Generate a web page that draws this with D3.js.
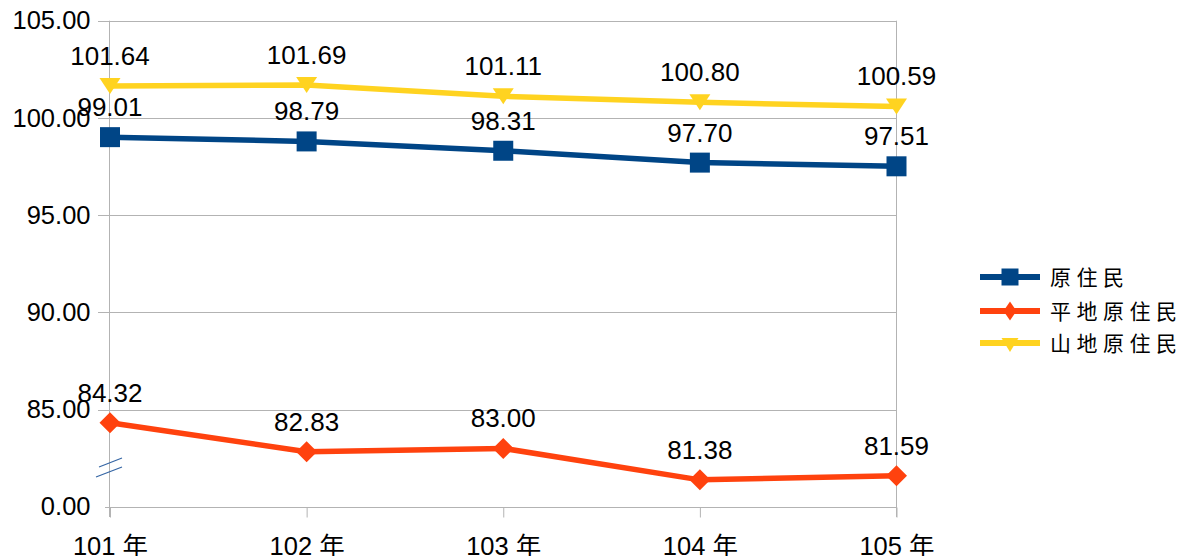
<!DOCTYPE html>
<html><head><meta charset="utf-8">
<script src="https://cdn.jsdelivr.net/npm/d3@7"></script>
<style>
body{margin:0;background:#fff;}
svg{display:block;}
</style></head>
<body>
<svg id="chart" width="1187" height="556"></svg>
<script>
const categories = ["101 年","102 年","103 年","104 年","105 年"];
const seriesNames = ["原住民","平地原住民","山地原住民"];
const seriesAll = [99.01, 98.79, 98.31, 97.70, 97.51];
const seriesPlain = [84.32, 82.83, 83.00, 81.38, 81.59];
const seriesMountain = [101.64, 101.69, 101.11, 100.80, 100.59];
const yTickValues = [80, 85, 90, 95, 100, 105];
const yTickLabels = ["0.00", "85.00", "90.00", "95.00", "100.00", "105.00"];
const colors = ["#004586", "#ff420e", "#ffd320"];
const symbols = ["square", "diamond", "triDown"];

(function () {
const svg = d3.select("#chart");
const pLeft = 109.5, pRight = 896.5, pTop = 20.7, pBottom = 506.7;
const x = d3.scalePoint().domain(categories).range([pLeft + 0.5, pRight]).padding(0);
const y = d3.scaleLinear().domain([80, 105]).range([pBottom, pTop]);
const font = "'Liberation Sans', Arial, 'Noto Sans CJK TC', sans-serif";

// gridlines
const g = svg.append("g");
g.selectAll("line.grid").data(yTickValues).join("line")
  .attr("x1", (d, i) => i === 0 ? 105 : 98).attr("x2", pRight)
  .attr("y1", d => Math.round(y(d)) + 0.5).attr("y2", d => Math.round(y(d)) + 0.5)
  .attr("stroke", "#b3b3b3").attr("stroke-width", 1);
// vertical axis line and right border
[pLeft, pRight].forEach(xx => {
  g.append("line").attr("x1", xx).attr("x2", xx).attr("y1", pTop).attr("y2", 517)
    .attr("stroke", "#b3b3b3").attr("stroke-width", 1);
});
// x ticks
const xAxis = d3.axisBottom(x).tickSize(10).tickPadding(18);
const xg = svg.append("g").attr("transform", `translate(0,${Math.round(pBottom)+0.5})`).call(xAxis);
xg.select(".domain").remove();
xg.selectAll(".tick line").attr("stroke", "#b3b3b3");
xg.selectAll(".tick text").attr("font-family", font).attr("font-size", 25.5).attr("fill", "#000")
  .attr("dy", "0.71em").attr("y", 29);

// y axis labels
const yAxis = d3.axisLeft(y).tickValues(yTickValues).tickSize(0).tickPadding(19)
  .tickFormat((d, i) => yTickLabels[i]);
const yg = svg.append("g").attr("transform", `translate(${pLeft},0)`).call(yAxis);
yg.select(".domain").remove();
yg.selectAll(".tick text").attr("font-family", font).attr("font-size", 25.5).attr("fill", "#000");

// axis break mark
const brk = svg.append("g").attr("stroke", "#3465a4").attr("stroke-width", 1.2);
brk.append("line").attr("x1", 96).attr("y1", 477).attr("x2", 122).attr("y2", 467);
brk.append("line").attr("x1", 99).attr("y1", 467).attr("x2", 122).attr("y2", 458);

function markerPath(sym, w, h) {
  const a = w / 2, b = h / 2;
  if (sym === "square") return `M${-a},${-b}H${a}V${b}H${-a}Z`;
  if (sym === "diamond") return `M0,${-b}L${a},0L0,${b}L${-a},0Z`;
  return `M${-a},${-b}L${a},${-b}L0,${b}Z`;
}

const allSeries = [seriesAll, seriesPlain, seriesMountain];
const mSize = [[20, 20], [21, 21], [21, 16]];
const legSize = [[17, 17], [13, 19], [17, 14]];
const line = d3.line().x((d, i) => x(categories[i])).y(d => y(d));

allSeries.forEach((vals, si) => {
  const sg = svg.append("g");
  sg.append("path").datum(vals).attr("d", line).attr("fill", "none")
    .attr("stroke", colors[si]).attr("stroke-width", 5.5).attr("stroke-linejoin", "round");
  sg.selectAll("path.m").data(vals).join("path").attr("class", "m")
    .attr("transform", (d, i) => `translate(${x(categories[i])},${y(d)})`)
    .attr("d", markerPath(symbols[si], mSize[si][0], mSize[si][1]))
    .attr("fill", colors[si]);
});
// data labels
allSeries.forEach((vals, si) => {
  svg.append("g").selectAll("text").data(vals).join("text")
    .attr("x", (d, i) => x(categories[i]))
    .attr("y", d => y(d) - 21)
    .attr("text-anchor", "middle")
    .attr("font-family", font).attr("font-size", 26).attr("fill", "#000")
    .text(d => d.toFixed(2));
});

// legend
const lg = svg.append("g");
const legY = [277, 311, 343];
seriesNames.forEach((name, si) => {
  const row = lg.append("g").attr("transform", `translate(0,${legY[si]})`);
  row.append("line").attr("x1", 980).attr("x2", 1040).attr("y1", 0).attr("y2", 0)
    .attr("stroke", colors[si]).attr("stroke-width", 6);
  const dy = si === 2 ? 2 : 0;
  row.append("path").attr("transform", `translate(1010,${dy})`)
    .attr("d", markerPath(symbols[si], legSize[si][0], legSize[si][1])).attr("fill", colors[si]);
  row.append("text").attr("x", 1050).attr("y", 0).attr("dy", "0.36em")
    .attr("font-family", "'Noto Sans CJK TC', sans-serif").attr("font-size", 21)
    .attr("letter-spacing", 5.5).attr("fill", "#000").text(name);
});
})();
</script>
</body></html>
